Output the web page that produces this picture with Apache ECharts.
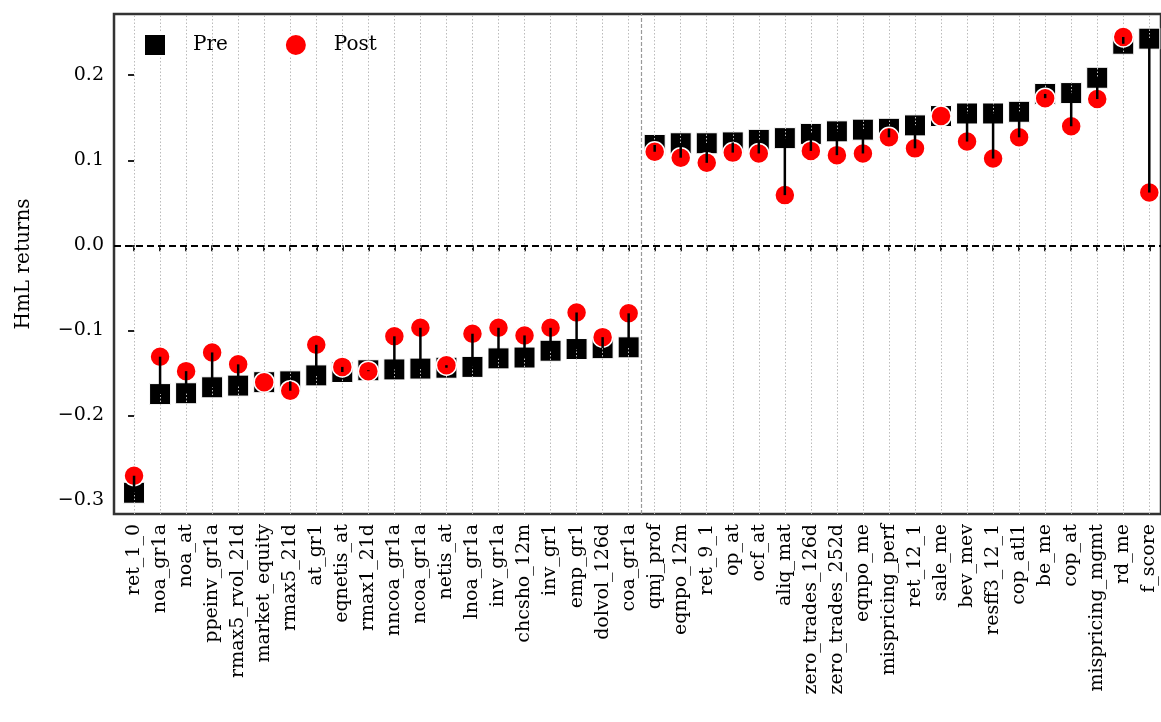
<!DOCTYPE html>
<html>
<head>
<meta charset="utf-8">
<script src="https://cdn.jsdelivr.net/npm/echarts@6/dist/echarts.min.js"></script>
<style>
  html, body { margin: 0; padding: 0; background: #fff; }
  #chart { width: 1161px; height: 722px; }
</style>
</head>
<body>
<div id="chart"></div>
<script>
const categories = [
  'ret_1_0', 'noa_gr1a', 'noa_at', 'ppeinv_gr1a', 'rmax5_rvol_21d', 'market_equity',
  'rmax5_21d', 'at_gr1', 'eqnetis_at', 'rmax1_21d', 'nncoa_gr1a', 'ncoa_gr1a', 'netis_at',
  'lnoa_gr1a', 'inv_gr1a', 'chcsho_12m', 'inv_gr1', 'emp_gr1', 'dolvol_126d', 'coa_gr1a',
  'qmj_prof', 'eqnpo_12m', 'ret_9_1', 'op_at', 'ocf_at', 'aliq_mat', 'zero_trades_126d',
  'zero_trades_252d', 'eqnpo_me', 'mispricing_perf', 'ret_12_1', 'sale_me', 'bev_mev',
  'resff3_12_1', 'cop_atl1', 'be_me', 'cop_at', 'mispricing_mgmt', 'rd_me', 'f_score'
]
const preValues = [
  -0.291, -0.175, -0.174, -0.167, -0.165, -0.161, -0.160, -0.153, -0.149, -0.147,
  -0.146, -0.145, -0.144, -0.143, -0.133, -0.132, -0.124, -0.122, -0.121, -0.120,
  0.118, 0.120, 0.120, 0.121, 0.124, 0.126, 0.131, 0.134, 0.136, 0.137,
  0.141, 0.152, 0.155, 0.155, 0.157, 0.178, 0.179, 0.197, 0.237, 0.243
]
const postValues = [
  -0.271, -0.131, -0.148, -0.126, -0.140, -0.161, -0.171, -0.117, -0.143, -0.148,
  -0.107, -0.097, -0.141, -0.104, -0.097, -0.106, -0.097, -0.079, -0.108, -0.080,
  0.110, 0.103, 0.097, 0.109, 0.108, 0.059, 0.111, 0.106, 0.108, 0.127,
  0.114, 0.152, 0.122, 0.102, 0.127, 0.173, 0.140, 0.172, 0.245, 0.062
]
const yTicks = [-0.3, -0.2, -0.1, 0.0, 0.1, 0.2]
const splitAt = 19.5 // between the negative and positive groups

const font = 'DejaVu Serif'
const idx = categories.map((c, i) => i)

const chart = echarts.init(document.getElementById('chart'))

const option = {
  animation: false,
  textStyle: { fontFamily: font },
  grid: {
    left: 114, right: -3, top: 14, bottom: 208,
    show: true, borderColor: '#333', borderWidth: 2.5
  },
  legend: {
    left: 138, top: 28,
    itemWidth: 22, itemHeight: 22, itemGap: 56,
    data: ['Pre', 'Post'],
    textStyle: { fontSize: 20, fontFamily: font, color: '#000', padding: [0, 0, 0, 22] }
  },
  xAxis: {
    type: 'value',
    min: -0.77, max: 39.45,
    axisLine: { show: false },
    splitLine: { show: false },
    axisTick: { show: true, customValues: idx, length: 6, lineStyle: { color: '#222', width: 2 } },
    axisLabel: {
      customValues: idx,
      rotate: 90,
      fontSize: 19,
      color: '#000',
      fontFamily: font,
      margin: 10,
      formatter: v => categories[Math.round(v)]
    }
  },
  yAxis: {
    type: 'value',
    min: -0.316, max: 0.272,
    name: 'HmL returns',
    nameLocation: 'middle',
    nameRotate: 90,
    nameGap: 80,
    nameTextStyle: { fontSize: 20, fontFamily: font, color: '#000' },
    axisLine: { show: false },
    splitLine: { show: false },
    axisTick: { show: true, customValues: yTicks, length: 6, lineStyle: { color: '#222', width: 2 } },
    axisLabel: {
      customValues: yTicks,
      fontSize: 19,
      color: '#000',
      fontFamily: font,
      margin: 10,
      formatter: v => v.toFixed(1).replace('-', '\u2212')
    }
  },
  series: [
    {
      name: 'Pre',
      type: 'scatter',
      symbol: 'rect',
      symbolSize: 21,
      z: 2,
      itemStyle: { color: '#000', opacity: 1, borderColor: '#fff', borderWidth: 1 },
      data: idx.map(i => [i, preValues[i]]),
      // grid lines sit over the squares, as in the original
      markLine: {
        z: 2.5,
        silent: true,
        symbol: 'none',
        label: { show: false },
        data: [
          ...idx.map(i => ({ xAxis: i, lineStyle: { color: '#bbb', type: [1.5, 2], width: 1 } })),
          { xAxis: splitAt, lineStyle: { color: '#999', type: [4, 2], width: 1.2 } },
          { yAxis: 0, lineStyle: { color: '#000', type: [7, 4], width: 1.8 } }
        ]
      }
    },
    {
      name: 'Post',
      type: 'scatter',
      symbol: 'circle',
      symbolSize: 20,
      z: 3,
      itemStyle: { color: '#ff0000', opacity: 1, borderColor: '#fff', borderWidth: 1.5 },
      data: idx.map(i => [i, postValues[i]])
    },
    {
      // pre -> post connectors
      type: 'custom',
      z: 4,
      silent: true,
      data: idx.map(i => [i, preValues[i], postValues[i]]),
      renderItem: (params, api) => {
        const a = api.coord([api.value(0), api.value(1)])
        const b = api.coord([api.value(0), api.value(2)])
        return {
          type: 'line',
          shape: { x1: a[0], y1: a[1], x2: b[0], y2: b[1] },
          style: { stroke: '#000', lineWidth: 2.5 }
        }
      }
    }
  ]
}

chart.setOption(option)
</script>
</body>
</html>
